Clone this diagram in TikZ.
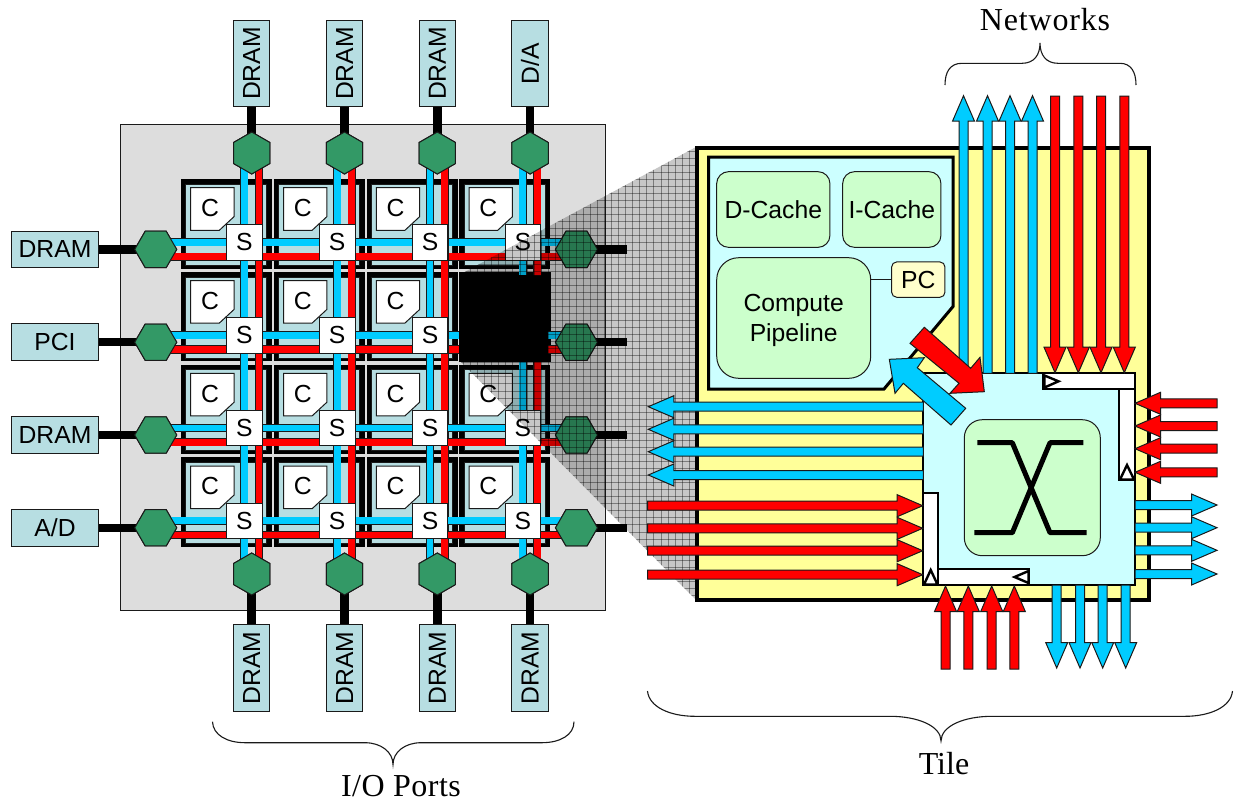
\documentclass[tikz,border=0pt]{standalone}
\usepackage{fontspec}
\setmainfont{Liberation Serif}
\newfontfamily\arialf{Liberation Sans}
\usetikzlibrary{shapes.geometric,calc}
\definecolor{wireblue}{HTML}{00CCFF}
\definecolor{wirered}{HTML}{FF0000}
\definecolor{tealbox}{HTML}{B7DEE2}
\definecolor{hexgreen}{HTML}{339966}
\definecolor{tileyellow}{HTML}{FFFF99}
\definecolor{procyan}{HTML}{CCFFFF}
\definecolor{unitgreen}{HTML}{CCFFCC}
\definecolor{pcyellow}{HTML}{FFFFCC}
\definecolor{chipgray}{HTML}{DDDDDD}
\definecolor{edge}{HTML}{1A1A1A}
\tikzset{
  sans/.style={font=\arialf\fontsize{24.7}{29.5}\selectfont},
  serifl/.style={font=\fontsize{32}{36}\selectfont},
  portbox/.style={draw=edge,line width=1pt,fill=tealbox,sans,inner sep=0pt,minimum width=86.5pt,minimum height=36.5pt},
  hexv/.style={regular polygon,regular polygon sides=6,shape border rotate=30,draw=edge,line width=1pt,fill=hexgreen,minimum size=42pt,inner sep=0pt},
  hexh/.style={regular polygon,regular polygon sides=6,draw=edge,line width=1pt,fill=hexgreen,minimum size=42pt,inner sep=0pt},
  portwire/.style={line width=8.5pt,black},
  bluewire/.style={draw=edge,line width=.7pt,double=wireblue,double distance=6.7pt},
  redwire/.style={draw=edge,line width=.7pt,double=wirered,double distance=6.7pt},
  switchbox/.style={draw=edge,line width=.9pt,fill=white,sans,inner sep=0pt,minimum width=35.5pt,minimum height=35.5pt},
  unit/.style={draw=edge,line width=1pt,fill=unitgreen,sans,inner sep=0pt,align=center},
  fifo/.style={draw=black,line width=2.2pt,fill=white,line join=miter},
  fifotip/.style={draw=black,line width=2.4pt,fill=white,line join=miter},
  brace/.style={draw=edge,line width=1.1pt},
  blockblue/.style={draw=edge,line width=1pt,fill=wireblue,line join=miter},
  blockred/.style={draw=edge,line width=1pt,fill=wirered,line join=miter},
}
% style, tip x, tip y, direction, length
\newcommand{\blockarrow}[5]{%
  \draw[#1,shift={(#2,#3)},rotate=#4] (0,0) -- (-25.5,11) -- (-25.5,4.5) -- (-#5,4.5) -- (-#5,-4.5) -- (-25.5,-4.5) -- (-25.5,-11) -- cycle;}
\begin{document}
\begin{tikzpicture}[x=1pt,y=-1pt]
\useasboundingbox (0,0) rectangle (1238,801);
\fill[white] (0,0) rectangle (1238,801);
% chip
\draw[fill=chipgray,draw=edge,line width=1pt] (120,124) rectangle (605,610);
% ports and their hexagons
\foreach \c/\x/\lab in {0/251.7/DRAM,1/344.5/DRAM,2/437.3/DRAM,3/530.1/{D/A}}{
  \node[portbox,rotate=90] (pt\c) at (\x,63.5) {\lab};
  \node[hexv] (ht\c) at (\x,153) {};
  \draw[portwire] (pt\c.west) -- (ht\c.center);
}
\foreach \c/\x in {0/251.7,1/344.5,2/437.3,3/530.1}{
  \node[portbox,rotate=90] (pb\c) at (\x,668) {DRAM};
  \node[hexv] (hb\c) at (\x,574) {};
  \draw[portwire] (pb\c.east) -- (hb\c.center);
}
\foreach \r/\y/\lab in {0/249.4/DRAM,1/342.2/PCI,2/435/DRAM,3/527.8/A{/}D}{
  \node[portbox] (pl\r) at (55,\y) {\lab};
  \node[hexh] (hl\r) at (155.7,\y) {};
  \draw[portwire] (pl\r.east) -- (hl\r.center);
  \node[hexh] (hr\r) at (576.5,\y) {};
  \coordinate (er\r) at (627,\y);
  \draw[portwire] (hr\r.center) -- (er\r);
}
% tiles
\foreach \r/\y in {0/242.4,1/335.2,2/428,3/520.8}{
  \foreach \c/\x in {0/244.4,1/337.2,2/430,3/522.8}{
    \coordinate (s\r\c) at (\x,\y);
    \fill[black] ($(s\r\c)+(-63.4,-63.4)$) rectangle ($(s\r\c)+(27.6,26.2)$);
    \draw[fill=tealbox,draw=edge,line width=.6pt] ($(s\r\c)+(-58.7,-58.4)$) rectangle ($(s\r\c)+(22.3,22.6)$);
    \ifnum\r\c=13 \else
      \draw[fill=white,draw=edge,line width=1pt] ($(s\r\c)+(-53.7,-54.7)$) -- ($(s\r\c)+(-10.4,-54.7)$) -- ($(s\r\c)+(-10.4,-25.7)$) -- ($(s\r\c)+(-25.1,-12.1)$) -- ($(s\r\c)+(-53.7,-12.1)$) -- cycle;
      \node[sans,inner sep=0pt] (cc\r\c) at ($(s\r\c)+(-34.4,-34.4)$) {C};
    \fi
  }
}
% mesh wires
\foreach \c in {0,1,2,3}{
  \draw[bluewire] ([xshift=-7.3pt]ht\c.center) -- ([xshift=-7.3pt]hb\c.center);
  \draw[redwire] ([xshift=7.3pt]ht\c.center) -- ([xshift=7.3pt]hb\c.center);
  \draw[bluewire] ([yshift=7pt]hl\c.center) -- ([yshift=7pt]hr\c.center);
  \draw[redwire] ([yshift=-7.3pt]hl\c.center) -- ([yshift=-7.3pt]hr\c.center);
}
% the tile that is blown up
\fill[black] (459,272) rectangle (550.5,361.7);
\coordinate (stubtb) at (522.8,275);
\coordinate (stubtr) at (537.4,275);
\draw[bluewire] (s03) -- (stubtb);
\draw[redwire] ($(s03)+(14.6,0)$) -- (stubtr);
\coordinate (stubrb) at (547.7,335.2);
\coordinate (stubrr) at (547.7,349.5);
\draw[bluewire] (stubrb) -- ([yshift=7pt]hr1.center);
\draw[redwire] (stubrr) -- ([yshift=-7.3pt]hr1.center);
% switches
\foreach \r in {0,1,2,3}{
  \foreach \c in {0,1,2,3}{
    \ifnum\r\c=13 \else
      \node[switchbox] (sw\r\c) at (s\r\c) {S};
    \fi
  }
}
% hexagons on top of the wires
\foreach \c/\x in {0/251.7,1/344.5,2/437.3,3/530.1}{
  \node[hexv] at (ht\c.center) {};
  \node[hexv] at (hb\c.center) {};
}
\foreach \r in {0,1,2,3}{
  \node[hexh] at (hl\r.center) {};
  \node[hexh] at (hr\r.center) {};
}
% blow-up shadow
\fill[black,opacity=.22] (459,275) -- (696,147) -- (696,600) -- (459,360) -- cycle;
\begin{scope}
  \clip (459,275) -- (696,147) -- (696,600) -- (459,360) -- cycle;
  \foreach \i in {0,...,34}{
    \draw[black,opacity=.38,line width=.5pt] (696-\i*7.05,140) -- (696-\i*7.05,610);
  }
  \foreach \i in {0,...,66}{
    \draw[black,opacity=.38,line width=.5pt] (450,144+\i*7.05) -- (700,144+\i*7.05);
  }
\end{scope}
% big tile
\draw[fill=tileyellow,draw=black,line width=4pt] (697,148) rectangle (1149,599.5);
\draw[fill=procyan,draw=black,line width=3pt,line join=miter] (708.5,157) -- (953,157) -- (953,306.5) -- (884,389) -- (708.5,389) -- cycle;
\node[unit,rounded corners=12pt,minimum width=113.3pt,minimum height=75.7pt] (dc) at (773.3,209.5) {D-Cache};
\node[unit,rounded corners=12pt,minimum width=98.3pt,minimum height=75.7pt] (ic) at (891.8,209.5) {I-Cache};
\node[unit,rounded corners=22pt,minimum width=154pt,minimum height=120.6pt] (pipe) at (793.7,318) {};
\node[sans,align=center,inner sep=0pt] (pipetext) at (793.7,320.5) {Compute\\Pipeline};
\node[unit,fill=pcyellow,rounded corners=5pt,minimum width=53.3pt,minimum height=35.3pt] (pc) at (918.3,279.6) {PC};
\draw[edge,line width=1pt] (pc.west) -- (pc.west -| pipe.east);
% switch
\draw[fill=procyan,draw=black,line width=1.8pt] (923.3,373.3) rectangle (1135,585);
\node[unit,rounded corners=18pt,minimum width=136pt,minimum height=136pt] (xbar) at (1032.3,487.7) {};
\draw[black,line width=5pt,line join=round] (977.3,442.7) -- (1012.3,442.7) -- (1050,532.7) -- (1086.7,532.7);
\draw[black,line width=5pt,line join=round] (974.3,532.7) -- (1012.3,532.7) -- (1050,442.7) -- (1083.3,442.7);
% fifos
\draw[fifo] (1119,389.3) rectangle (1135,480);
\draw[fifo] (1043.3,373.3) rectangle (1135,389.3);
\draw[fifotip] (1044.5,375.5) -- (1058.5,381.3) -- (1044.5,387.5) -- cycle;
\draw[fifotip] (1120,479.5) -- (1127,465) -- (1134,479.5) -- cycle;
\draw[fifo] (938.3,569) rectangle (1029,585);
\draw[fifo] (923.3,493.3) rectangle (938.3,585);
\draw[fifotip] (924,584.5) -- (930.7,570) -- (937.5,584.5) -- cycle;
\draw[fifotip] (1028.5,571) -- (1014.5,577) -- (1028.5,583) -- cycle;
% straight arrows
\foreach \x in {963.5,987.5,1010,1032.5}{\blockarrow{blockblue}{\x}{95.7}{90}{277.6}}
\foreach \x in {1055,1078.3,1101,1124.3}{\blockarrow{blockred}{\x}{372.7}{-90}{276.7}}
\foreach \y in {406.7,429.3,451.7,475}{\blockarrow{blockblue}{648.3}{\y}{180}{275}}
\foreach \y in {505.7,528.3,550.7,574.7}{\blockarrow{blockred}{922.7}{\y}{0}{275.2}}
\foreach \x in {945.5,968.3,991.7,1014.3}{\blockarrow{blockred}{\x}{586}{90}{83}}
\foreach \x in {1056.7,1080,1102.7,1125.7}{\blockarrow{blockblue}{\x}{668}{-90}{83}}
\foreach \y in {403.3,426,448.7,472.3}{\blockarrow{blockred}{1135}{\y}{180}{82}}
\foreach \y in {505,527.7,550.3,574}{\blockarrow{blockblue}{1217}{\y}{0}{82}}
% diagonal arrows
\draw[blockblue] (889.3,359.3) -- (924.3,357.7) -- (917.3,367.7) -- (965.7,408.3) -- (951,425) -- (903.3,383.3) -- (895,393.3) -- cycle;
\draw[blockred] (924.3,327.3) -- (970.7,368.3) -- (980,357.3) -- (984.3,391.7) -- (950,393.3) -- (959,383.3) -- (910,343.3) -- cycle;
% braces
\draw[brace] (945,85) .. controls (945,72) and (950,63.3) .. (962,63.3) -- (1022,63.3) .. controls (1034,63.3) and (1040,55) .. (1040,43) .. controls (1040,55) and (1046,63.3) .. (1058,63.3) -- (1120,63.3) .. controls (1131,63.3) and (1136,72) .. (1136,85);
\draw[brace] (647.5,691) .. controls (649,707) and (670,716.3) .. (695,716.3) -- (890,716.3) .. controls (918,716.3) and (941,726) .. (941,741) .. controls (941,726) and (964,716.3) .. (992,716.3) -- (1185,716.3) .. controls (1210,716.3) and (1231,707) .. (1232.5,691);
\draw[brace] (212.5,721.7) .. controls (213,735) and (227,742.7) .. (245,742.7) -- (365,742.7) .. controls (381,742.7) and (393,752) .. (393,764.5) .. controls (393,752) and (405,742.7) .. (421,742.7) -- (542,742.7) .. controls (560,742.7) and (574,735) .. (574,721.7);
\node[serifl,inner sep=0pt] (lnet) at (1045,20) {\addfontfeature{LetterSpace=2.6}Networks};
\node[serifl,inner sep=0pt] (lio) at (401,786) {\addfontfeature{LetterSpace=1.5}I/O Ports};
\node[font=\fontsize{32}{36}\selectfont,inner sep=0pt] (ltile) at (944,764) {Tile};
\end{tikzpicture}
\end{document}
